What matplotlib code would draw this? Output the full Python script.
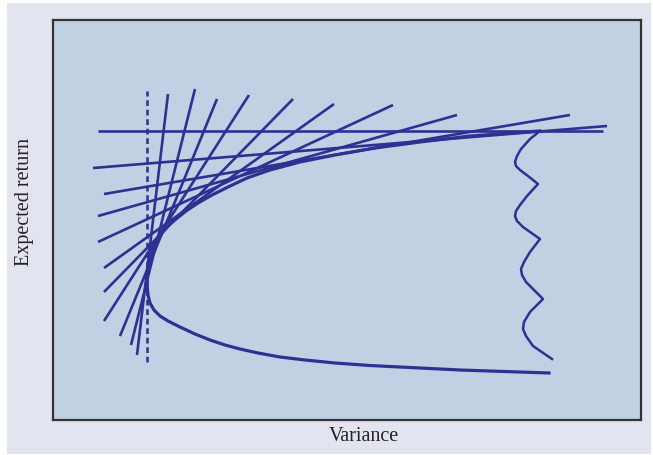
import matplotlib
matplotlib.use("Agg")
import matplotlib.pyplot as plt
from matplotlib.patches import Rectangle

# efficient frontier (variance, expected return), arbitrary units
# lower branch, right to left, down to the minimum-variance point
lower_var = [496, 407, 357, 317, 282, 252, 227, 205, 187, 172, 157, 142, 127, 115,
             107, 101, 97, 95, 94]
lower_ret = [47, 50, 52.5, 54.5, 57, 60, 63, 67, 71, 75, 80, 86, 93, 99,
             104, 110, 117, 125, 136]
# upper branch, left to right
upper_var = [94, 95, 97, 100, 104, 109, 115, 123, 133, 145, 159, 175, 194, 217,
             247, 282, 322, 367, 417, 487]
upper_ret = [146, 154, 163, 171, 179, 187, 194, 201, 209, 217, 225, 233, 242, 250,
             258, 265, 272, 278, 284, 289]

# tangent lines: start / end points
tan_var0 = [84, 78, 67, 51, 51, 51, 45, 45, 51, 40, 45]
tan_ret0 = [65, 75, 84, 99, 128, 152, 178, 204, 226, 252, 289]
tan_var1 = [115, 142, 164, 196, 240, 281, 340, 404, 517, 554, 550]
tan_ret1 = [326, 331, 321, 325, 321, 316, 315, 305, 305, 294, 289]

# minimum-variance line
minvar_x = 94
minvar_ret = [58, 329]

# wavy cut-off on the right
wave_var = [487, 477, 468, 464, 462, 463, 467, 475, 485,
            474, 467, 463, 462, 464, 470, 487,
            477, 471, 468, 469, 473, 490,
            477, 471, 470, 473, 480, 499]
wave_ret = [289, 281, 271, 264, 258, 254, 250, 244, 236,
            224, 215, 209, 204, 199, 193, 181,
            168, 158, 151, 145, 138, 121,
            108, 98, 91, 84, 74, 61]

line_color = "#2e3192"

fig = plt.figure(figsize=(6.53, 4.56), dpi=100)
fig.patch.set_facecolor("white")
bg = Rectangle((7 / 653, 1 / 456), 644 / 653, 451 / 456,
               transform=fig.transFigure, facecolor="#e2e5f0",
               edgecolor="none", zorder=-10)
fig.add_artist(bg)

ax = fig.add_axes([53 / 653, 35 / 456, 588 / 653, 400 / 456])
ax.set_zorder(1)
ax.set_facecolor("#c1d1e4")
ax.set_xlim(0, 588)
ax.set_ylim(0, 400)
ax.set_xticks([])
ax.set_yticks([])
for sp in ax.spines.values():
    sp.set_color("#333333")
    sp.set_linewidth(1.6)

for x0, y0, x1, y1 in zip(tan_var0, tan_ret0, tan_var1, tan_ret1):
    ax.plot([x0, x1], [y0, y1], color=line_color, lw=1.9, solid_capstyle="butt")

ax.plot(lower_var + upper_var, lower_ret + upper_ret, color=line_color, lw=2.3,
        solid_joinstyle="round")
ax.plot(wave_var, wave_ret, color=line_color, lw=1.8, solid_joinstyle="round")
ax.plot([minvar_x, minvar_x], minvar_ret, color=line_color, lw=1.8,
        linestyle=(0, (2.3, 1.5)))

fig.text(364 / 653, 1 - 437 / 456, "Variance", family="Liberation Serif",
         fontsize=14.5, ha="center", va="center", color="#222222", zorder=2)
fig.text(25 / 653, 1 - 202 / 456, "Expected return", family="Liberation Serif",
         fontsize=14.5, ha="center", va="center", rotation=90, color="#222222",
         zorder=2)

fig.savefig("out.png", dpi=100)
